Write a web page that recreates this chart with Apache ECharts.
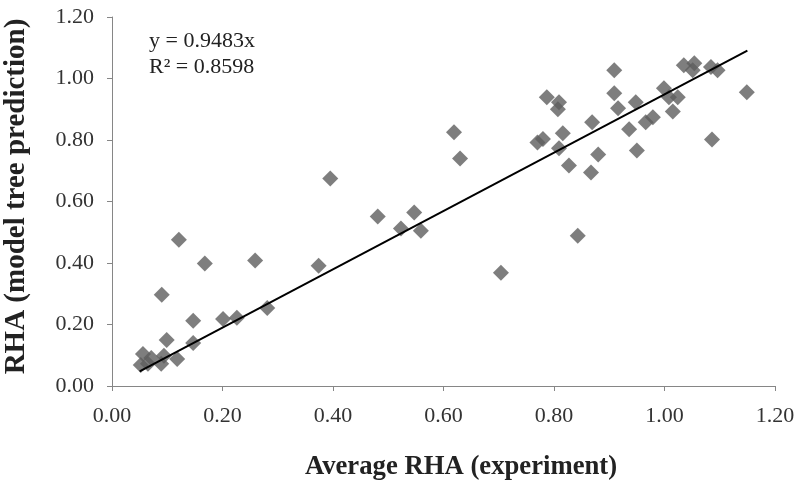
<!DOCTYPE html>
<html>
<head>
<meta charset="utf-8">
<script src="https://cdn.jsdelivr.net/npm/echarts@6/dist/echarts.min.js"></script>
<style>html,body{margin:0;padding:0;background:#fff}#c{width:800px;height:481px}</style>
</head>
<body>
<div id="c"></div>
<script>
var xValues = [0.052,0.056,0.065,0.071,0.089,0.094,0.118,0.090,0.099,0.121,0.147,0.147,0.168,0.201,0.226,0.259,0.281,0.374,0.395,0.481,0.523,0.547,0.559,0.619,0.630,0.704,0.770,0.780,0.787,0.807,0.809,0.809,0.816,0.827,0.843,0.867,0.869,0.880,0.909,0.909,0.916,0.936,0.948,0.950,0.966,0.979,0.999,1.008,1.015,1.024,1.035,1.051,1.054,1.084,1.086,1.096,1.149];
var yValues = [0.068,0.104,0.072,0.091,0.072,0.098,0.088,0.297,0.150,0.476,0.212,0.140,0.398,0.218,0.222,0.408,0.254,0.391,0.675,0.551,0.512,0.564,0.505,0.825,0.740,0.368,0.792,0.803,0.939,0.900,0.923,0.773,0.822,0.717,0.489,0.694,0.858,0.753,1.027,0.952,0.903,0.835,0.923,0.766,0.858,0.874,0.968,0.939,0.893,0.939,1.043,1.027,1.050,1.037,0.802,1.027,0.955];
var trendSlope = 0.9483;
var trendX = [0.05, 1.15];
var equationText = ['y = 0.9483x', 'R² = 0.8598'];
var xAxisTitle = 'Average RHA (experiment)';
var yAxisTitle = 'RHA (model tree prediction)';

var points = xValues.map(function(x, i){ return [x, yValues[i]]; });
var trend = trendX.map(function(x){ return [x, trendSlope * x]; });
var serif = '"Liberation Serif","Times New Roman",serif';

var chart = echarts.init(document.getElementById('c'));
chart.setOption({
  animation: false,
  grid: {left: 112, right: 25, top: 17, bottom: 95, containLabel: false, outerBoundsMode: 'none'},
  xAxis: {
    type: 'value', min: 0, max: 1.2, interval: 0.2,
    name: xAxisTitle, nameLocation: 'middle', nameGap: 68,
    nameTextStyle: {fontFamily: serif, fontSize: 26.7, fontWeight: 'bold', color: '#222', padding: [0, 0, 0, 35]},
    axisLine: {show: true, lineStyle: {color: '#868686', width: 1}},
    axisTick: {show: true, length: 5, lineStyle: {color: '#868686'}},
    axisLabel: {fontFamily: serif, fontSize: 22, color: '#333', margin: 19, formatter: function(v){ return v.toFixed(2); }},
    splitLine: {show: false}
  },
  yAxis: {
    type: 'value', min: 0, max: 1.2, interval: 0.2,
    name: yAxisTitle, nameLocation: 'middle', nameGap: 81, nameRotate: 90,
    nameTextStyle: {fontFamily: serif, fontSize: 29, fontWeight: 'bold', color: '#222', padding: [0, 0, 0, 10]},
    axisLine: {show: true, lineStyle: {color: '#868686', width: 1}},
    axisTick: {show: true, length: 5, lineStyle: {color: '#868686'}},
    axisLabel: {fontFamily: serif, fontSize: 22, color: '#333', margin: 18, formatter: function(v){ return v.toFixed(2); }},
    splitLine: {show: false}
  },
  graphic: [{
    type: 'text', left: 149, top: 28,
    style: {text: equationText.join('\n'), fontFamily: serif, fontSize: 22, lineHeight: 26, fill: '#222'}
  }],
  series: [{
    type: 'scatter', data: points, symbol: 'diamond', symbolSize: 16,
    itemStyle: {color: '#5e5e5e'}, z: 2
  }, {
    type: 'line', data: trend, showSymbol: false, symbol: 'none',
    lineStyle: {color: '#000', width: 2}, z: 3
  }]
});
</script>
</body>
</html>
